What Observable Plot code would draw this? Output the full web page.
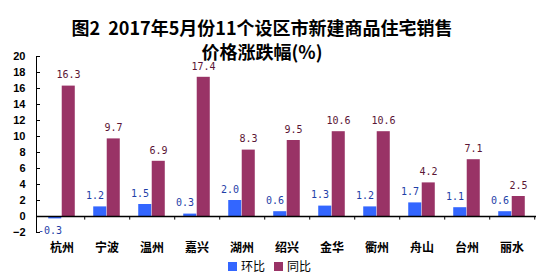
<!DOCTYPE html>
<html><head><meta charset="utf-8">
<script src="https://cdn.jsdelivr.net/npm/d3@7"></script>
<script src="https://cdn.jsdelivr.net/npm/@observablehq/plot@0.6"></script>
<style>
body{margin:0;background:#fff;}
#wrap{position:relative;width:555px;height:280px;overflow:hidden;}
#chart{position:absolute;left:0;top:0;}
.title{position:absolute;left:0;width:524px;text-align:center;font:bold 18px/18px "Noto Sans CJK SC",sans-serif;color:#000;white-space:nowrap;}
#t1{top:18px;}
#t2{top:42px;}
#legend{position:absolute;left:228px;top:258px;display:flex;align-items:center;font:12px/16px "Noto Sans CJK SC",sans-serif;color:#000;}
#legend .sw{display:inline-block;width:9px;height:9px;margin-right:4px;}
#legend .it{display:flex;align-items:center;margin-right:9px;}
</style></head>
<body>
<div id="wrap"><div id="chart"></div>
<div class="title" id="t1">图2&nbsp; 2017年5月份11个设区市新建商品住宅销售</div>
<div class="title" id="t2">价格涨跌幅(%)</div>
<div id="legend"></div></div>
<script>
const cities = ["杭州","宁波","温州","嘉兴","湖州","绍兴","金华","衢州","舟山","台州","丽水"];
const seriesNames = ["环比","同比"];
const mom = [-0.3, 1.2, 1.5, 0.3, 2.0, 0.6, 1.3, 1.2, 1.7, 1.1, 0.6];
const yoy = [16.3, 9.7, 6.9, 17.4, 8.3, 9.5, 10.6, 10.6, 4.2, 7.1, 2.5];
const yTicks = [-2, 0, 2, 4, 6, 8, 10, 12, 14, 16, 18, 20];

const colors = ["#3366ff", "#993366"];
const labelColors = ["#1f3fa8", "#5a1535"];

const W = 555, H = 280, mL = 36, mR = 19, mT = 56, mB = 48;
const bw = (W - mL - mR) / cities.length;
const barW = 13.5;

const rows = cities.flatMap((c, i) => [
  {city: c, series: seriesNames[0], value: mom[i]},
  {city: c, series: seriesNames[1], value: yoy[i]}
]);
const momRows = rows.filter(d => d.series === seriesNames[0]);
const yoyRows = rows.filter(d => d.series === seriesNames[1]);
const fmt = d => d.value.toFixed(1);
const labelFont = {fontFamily: "DejaVu Sans Mono, monospace", fontSize: 10};

const chart = Plot.plot({
  width: W, height: H,
  marginLeft: mL, marginRight: mR, marginTop: mT, marginBottom: mB,
  style: {background: "transparent", fontFamily: "Liberation Sans, Arial, sans-serif", color: "#000"},
  x: {domain: cities, padding: 0},
  y: {domain: [-2, 20]},
  marks: [
    Plot.barY(momRows, {x: "city", y: "value", fill: colors[0], insetLeft: bw / 2 - barW, insetRight: bw / 2}),
    Plot.barY(yoyRows, {x: "city", y: "value", fill: colors[1], insetLeft: bw / 2, insetRight: bw / 2 - barW}),
    Plot.ruleY([0], {stroke: "#000", strokeWidth: 1.5}),
    Plot.ruleX(cities, {x: d => d, y1: 0, y2: -0.45, dx: bw / 2, stroke: "#000"}),
    Plot.frame({anchor: "left", stroke: "#000"}),
    Plot.axisY(yTicks, {tickSize: -4, tickPadding: 15, fontWeight: "bold", fontSize: 11, label: null}),
    Plot.axisX({tickSize: 0, tickPadding: 11, fontWeight: "bold", fontSize: 12, fontFamily: "Noto Sans CJK SC", label: null}),
    Plot.text(momRows.filter(d => d.value >= 0), {x: "city", y: "value", text: fmt, dx: -12, dy: -11, fill: labelColors[0], ...labelFont}),
    Plot.text(momRows.filter(d => d.value < 0), {x: "city", y: "value", text: fmt, dx: -12, dy: 12, fill: labelColors[0], ...labelFont}),
    Plot.text(yoyRows, {x: "city", y: "value", text: fmt, dx: 6.5, dy: -11, fill: labelColors[1], ...labelFont})
  ]
});
document.getElementById("chart").appendChild(chart);

const legend = document.getElementById("legend");
seriesNames.forEach((s, i) => {
  const it = document.createElement("span");
  it.className = "it";
  const sw = document.createElement("span");
  sw.className = "sw";
  sw.style.background = colors[i];
  it.appendChild(sw);
  it.appendChild(document.createTextNode(s));
  legend.appendChild(it);
});
</script>
</body></html>
